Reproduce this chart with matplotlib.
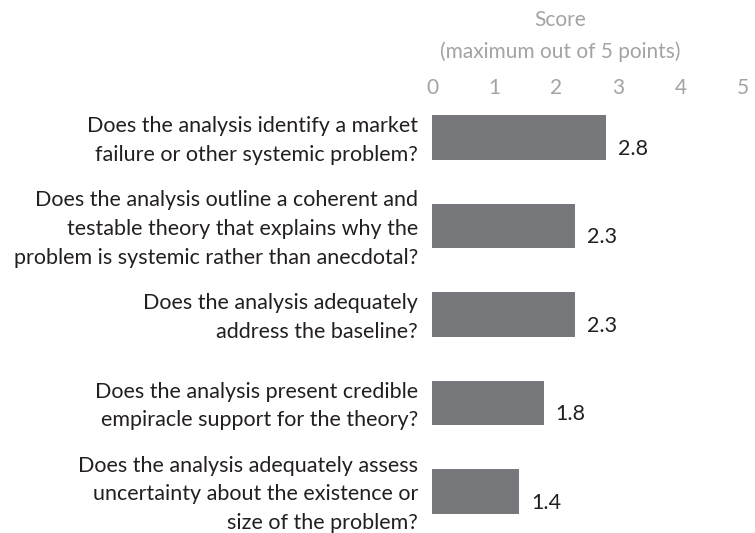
import matplotlib
matplotlib.use("Agg")
import matplotlib.pyplot as plt
from matplotlib.transforms import ScaledTranslation

questions = [
    "Does the analysis identify a market\nfailure or other systemic problem?",
    "Does the analysis outline a coherent and\ntestable theory that explains why the\nproblem is systemic rather than anecdotal?",
    "Does the analysis adequately\naddress the baseline?",
    "Does the analysis present credible\nempiracle support for the theory?",
    "Does the analysis adequately assess\nuncertainty about the existence or\nsize of the problem?",
]
scores = [2.8, 2.3, 2.3, 1.8, 1.4]
score_ticks = [0, 1, 2, 3, 4, 5]

BAR = "#77787b"
DARK = "#231f20"
LIGHT = "#a3a3a3"
FONT = ["Lato", "DejaVu Sans"]

plt.rcParams["font.family"] = FONT

fig = plt.figure(figsize=(7.55, 5.33), dpi=100)
W, H = 755, 533
x0, px_per_unit = 432, 62.2
top_px = 99
row_px = 88.5
first_center = 137.5
ax = fig.add_axes([x0 / W, 0, 5 * px_per_unit / W, 1 - top_px / H])

pos = list(range(len(scores)))
ax.barh(pos, scores, height=0.508, color=BAR, edgecolor="none")
ax.set_xlim(0, 5)
ax.set_ylim((H - first_center) / row_px, -(first_center - top_px) / row_px)

ax.xaxis.tick_top()
ax.set_xticks(score_ticks)
ax.set_xticklabels([str(t) for t in score_ticks], fontsize=15, color=LIGHT)
ax.tick_params(axis="x", length=0, pad=1)
ax.set_yticks(pos)
ax.set_yticklabels(questions, fontsize=15.5, color=DARK, linespacing=1.55)
ax.tick_params(axis="y", length=0, pad=10)
lift = ScaledTranslation(0, 2.5 / 72, fig.dpi_scale_trans)
for lbl in ax.get_yticklabels():
    lbl.set_transform(lbl.get_transform() + lift)
for s in ax.spines.values():
    s.set_visible(False)

for p, v in zip(pos, scores):
    ax.annotate(f"{v:.1f}", xy=(v, p), xytext=(8.5, -8), textcoords="offset points",
                ha="left", va="center", fontsize=15.5, color=DARK)

fig.text(560 / W, 1 - 20 / H, "Score", ha="center", va="center", fontsize=15,
         color=LIGHT)
fig.text(560 / W, 1 - 52 / H, "(maximum out of 5 points)", ha="center", va="center",
         fontsize=15, color=LIGHT)

fig.savefig("out.png", dpi=100)
